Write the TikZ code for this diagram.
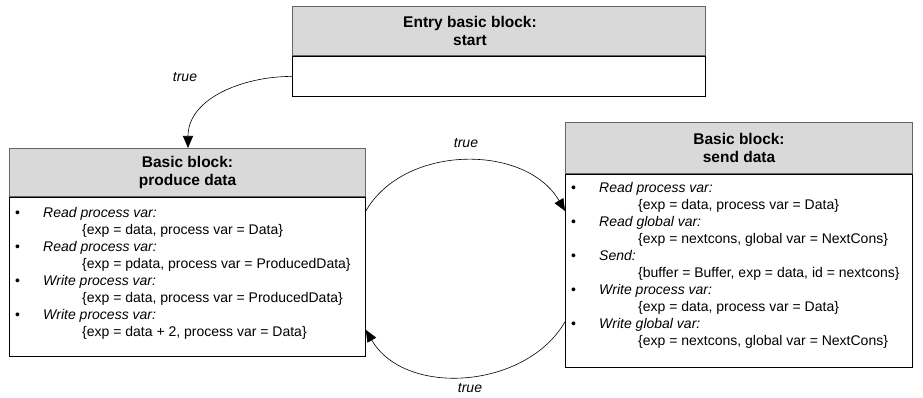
\documentclass[tikz,border=0pt]{standalone}
\usepackage{fontspec}
\setmainfont{Liberation Sans}
\usetikzlibrary{arrows.meta}

\newcommand{\opitem}[2]{\makebox[28pt][l]{\textbullet}\textit{#1}\\\hspace*{67pt}#2}

\begin{document}
\begin{tikzpicture}[x=1pt, y=1pt,
  headbox/.style={draw=black!60, fill=black!15, line width=1pt, anchor=north west, inner sep=0pt},
  bodybox/.style={draw, line width=0.8pt, anchor=north west, inner sep=0pt},
  title/.style={align=center, font=\fontsize{15.5}{18}\selectfont\bfseries},
  items/.style={align=left, anchor=north west, inner sep=0pt, font=\fontsize{14}{17}\selectfont},
  cond/.style={font=\fontsize{14}{17}\selectfont\itshape},
  flow/.style={-{Triangle[length=12pt,width=10pt]}, line width=0.6pt}]

  \useasboundingbox (0,0) rectangle (923,398);

  % entry block
  \node[headbox, minimum width=413, minimum height=49] (entryh) at (292,392) {};
  \node[bodybox, minimum width=413, minimum height=40] (entryb) at (entryh.south west) {};
  \node[title] (entryt) at ([xshift=-29pt]entryh.center) {Entry basic block:\\start};

  % produce block
  \node[headbox, minimum width=356, minimum height=48] (prodh) at (9,250) {};
  \node[bodybox, minimum width=356, minimum height=159] (prodb) at (prodh.south west) {};
  \node[title] (prodt) at (prodh.center) {Basic block:\\produce data};
  \node[items] (prodi) at ([shift={(6,-10)}]prodb.north west) {%
    \opitem{Read process var:}{\{exp = data, process var = Data\}}\\
    \opitem{Read process var:}{\{exp = pdata, process var = ProducedData\}}\\
    \opitem{Write process var:}{\{exp = data, process var = ProducedData\}}\\
    \opitem{Write process var:}{\{exp = data + 2, process var = Data\}}};

  % send block
  \node[headbox, minimum width=347, minimum height=51] (sendh) at (565,276) {};
  \node[bodybox, minimum width=347, minimum height=193] (sendb) at (sendh.south west) {};
  \node[title] (sendt) at (sendh.center) {Basic block:\\send data};
  \node[items] (sendi) at ([shift={(6,-8)}]sendb.north west) {%
    \opitem{Read process var:}{\{exp = data, process var = Data\}}\\
    \opitem{Read global var:}{\{exp = nextcons, global var = NextCons\}}\\
    \opitem{Send:}{\{buffer = Buffer, exp = data, id = nextcons\}}\\
    \opitem{Write process var:}{\{exp = data, process var = Data\}}\\
    \opitem{Write global var:}{\{exp = nextcons, global var = NextCons\}}};

  % edges
  \draw[flow] (entryb.west) to[out=180, in=90] ([xshift=179pt]prodh.north west);
  \draw[flow] ([yshift=-14pt]prodb.north east) to[out=60, in=120] ([yshift=-37pt]sendb.north west);
  \draw[flow] ([yshift=46pt]sendb.south west) to[out=-120, in=-60] ([yshift=27pt]prodb.south east);

  \node[cond] (c1) at (185,321) {true};
  \node[cond] (c2) at (466,255) {true};
  \node[cond] (c3) at (470,10) {true};
\end{tikzpicture}
\end{document}
